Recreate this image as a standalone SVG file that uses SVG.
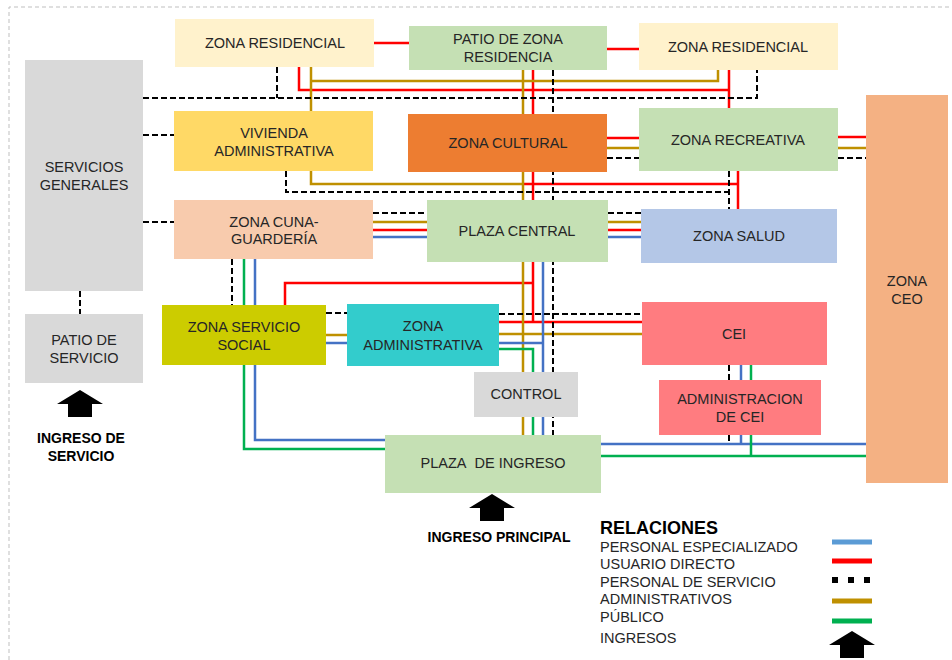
<svg xmlns="http://www.w3.org/2000/svg" width="952" height="660" viewBox="0 0 952 660">
<style>
.lbl{font-family:"Liberation Sans",Arial,sans-serif;font-size:14.5px;fill:#262626;text-anchor:middle;dominant-baseline:central}
.bold{font-family:"Liberation Sans",Arial,sans-serif;font-size:14px;font-weight:bold;fill:#000;text-anchor:middle}
.leg{font-family:"Liberation Sans",Arial,sans-serif;font-size:14.5px;fill:#262626}
.r{stroke:#FF0000;stroke-width:2.5;fill:none}
.g{stroke:#BF9000;stroke-width:2.5;fill:none}
.b{stroke:#4472C4;stroke-width:2.5;fill:none}
.gr{stroke:#00B050;stroke-width:2.5;fill:none}
.d{stroke:#000;stroke-width:2;stroke-dasharray:6 3;fill:none}
</style>
<defs>
<path id="arr" d="M0,0 L23,14 L12,14 L12,27 L-12,27 L-12,14 L-23,14 Z" fill="#000"/>
</defs>
<rect width="952" height="660" fill="#fff"/>
<path d="M9,660 V7 H952" stroke="#BFBFBF" stroke-width="1" stroke-dasharray="4 3" fill="none"/>
<g id="connectors">
<path class="r" d="M374,43 H409"/>
<path class="r" d="M607,49 H639"/>
<path class="r" d="M299,67 V90 H729"/>
<path class="r" d="M729,70 V108"/>
<path class="r" d="M533,70 V322"/>
<path class="r" d="M523,184 H738"/>
<path class="r" d="M738,171 V209"/>
<path class="r" d="M607,138 H639"/>
<path class="r" d="M838,137 H866"/>
<path class="r" d="M373,230 H427"/>
<path class="r" d="M608,230 H641"/>
<path class="r" d="M285,305 V283 H533"/>
<path class="r" d="M499,322 H642"/>
<path class="g" d="M311,67 V111"/>
<path class="g" d="M311,81 H718 V70"/>
<path class="g" d="M523,70 V435"/>
<path class="g" d="M311,171 V184 H523"/>
<path class="g" d="M607,148 H639"/>
<path class="g" d="M838,148 H866"/>
<path class="g" d="M373,222 H427"/>
<path class="g" d="M608,222 H641"/>
<path class="g" d="M326,335 H347"/>
<path class="g" d="M499,334 H642"/>
<path class="b" d="M373,237 H427"/>
<path class="b" d="M608,237 H641"/>
<path class="b" d="M255,259 V440 H385"/>
<path class="b" d="M326,343 H347"/>
<path class="b" d="M499,343 H543"/>
<path class="b" d="M543,262 V435"/>
<path class="b" d="M741,365 V380"/>
<path class="b" d="M741,435 V444"/>
<path class="b" d="M601,444 H866"/>
<path class="gr" d="M244,259 V449 H385"/>
<path class="gr" d="M499,349 H533 V435"/>
<path class="gr" d="M751,365 V380"/>
<path class="gr" d="M751,435 V456"/>
<path class="gr" d="M601,456 H866"/>
<path class="d" d="M143,98 H757 V70"/>
<path class="d" d="M277,67 V98"/>
<path class="d" d="M553,70 V435"/>
<path class="d" d="M143,135 H174"/>
<path class="d" d="M143,222 H174"/>
<path class="d" d="M80,291 V314"/>
<path class="d" d="M286,171 V192 H729"/>
<path class="d" d="M729,171 V209"/>
<path class="d" d="M607,158 H639"/>
<path class="d" d="M838,158 H866"/>
<path class="d" d="M373,213 H427"/>
<path class="d" d="M608,213 H641"/>
<path class="d" d="M232,259 V305"/>
<path class="d" d="M326,313 H347"/>
<path class="d" d="M499,314 H642"/>
<path class="d" d="M729,365 V380"/>
<path class="d" d="M729,435 V444"/>
</g>
<g id="zona-residencial-1"><rect x="175" y="19" width="199" height="48" fill="#FFF2CC"/><text class="lbl" x="275" y="43">ZONA RESIDENCIAL</text></g>
<g id="patio-zona-residencia"><rect x="409" y="26" width="198" height="44" fill="#C5E0B4"/><text class="lbl" x="508" y="39">PATIO DE ZONA</text><text class="lbl" x="508" y="57">RESIDENCIA</text></g>
<g id="zona-residencial-2"><rect x="639" y="23" width="199" height="47" fill="#FFF2CC"/><text class="lbl" x="738" y="47">ZONA RESIDENCIAL</text></g>
<g id="servicios-generales"><rect x="25" y="60" width="118" height="231" fill="#D9D9D9"/><text class="lbl" x="84" y="167">SERVICIOS</text><text class="lbl" x="84" y="185">GENERALES</text></g>
<g id="vivienda-administrativa"><rect x="174" y="111" width="199" height="60" fill="#FFD966"/><text class="lbl" x="274" y="133">VIVIENDA</text><text class="lbl" x="274" y="151">ADMINISTRATIVA</text></g>
<g id="zona-cultural"><rect x="408" y="114" width="199" height="58" fill="#ED7D31"/><text class="lbl" x="508" y="143">ZONA CULTURAL</text></g>
<g id="zona-recreativa"><rect x="639" y="108" width="199" height="63" fill="#C5E0B4"/><text class="lbl" x="738" y="140">ZONA RECREATIVA</text></g>
<g id="zona-ceo"><rect x="866" y="95" width="82" height="388" fill="#F4B183"/><text class="lbl" x="907" y="281">ZONA</text><text class="lbl" x="907" y="299">CEO</text></g>
<g id="zona-cuna"><rect x="174" y="200" width="199" height="59" fill="#F8CBAD"/><text class="lbl" x="274" y="222">ZONA CUNA-</text><text class="lbl" x="274" y="239">GUARDERÍA</text></g>
<g id="plaza-central"><rect x="427" y="200" width="181" height="62" fill="#C5E0B4"/><text class="lbl" x="517" y="231">PLAZA CENTRAL</text></g>
<g id="zona-salud"><rect x="641" y="209" width="196" height="54" fill="#B4C7E7"/><text class="lbl" x="739" y="236">ZONA SALUD</text></g>
<g id="patio-servicio"><rect x="25" y="314" width="118" height="69" fill="#D9D9D9"/><text class="lbl" x="84" y="340">PATIO DE</text><text class="lbl" x="84" y="358">SERVICIO</text></g>
<g id="zona-servicio-social"><rect x="162" y="305" width="164" height="60" fill="#CCCC00"/><text class="lbl" x="244" y="327">ZONA SERVICIO</text><text class="lbl" x="244" y="345">SOCIAL</text></g>
<g id="zona-administrativa"><rect x="347" y="304" width="152" height="62" fill="#33CCCC"/><text class="lbl" x="423" y="326">ZONA</text><text class="lbl" x="423" y="345">ADMINISTRATIVA</text></g>
<g id="cei"><rect x="642" y="302" width="185" height="63" fill="#FF7C80"/><text class="lbl" x="734" y="334">CEI</text></g>
<g id="control"><rect x="474" y="372" width="104" height="45" fill="#D9D9D9"/><text class="lbl" x="526" y="394">CONTROL</text></g>
<g id="administracion-cei"><rect x="659" y="380" width="162" height="55" fill="#FF7C80"/><text class="lbl" x="740" y="399">ADMINISTRACION</text><text class="lbl" x="740" y="417">DE CEI</text></g>
<g id="plaza-ingreso"><rect x="385" y="435" width="216" height="58" fill="#C5E0B4"/><text class="lbl" x="493" y="463">PLAZA&#160; DE INGRESO</text></g>
<g id="ingreso-servicio"><use href="#arr" x="80" y="390"/><text class="bold" x="81" y="443">INGRESO DE</text><text class="bold" x="81" y="461">SERVICIO</text></g>
<g id="ingreso-principal"><use href="#arr" x="492" y="494"/><text class="bold" x="499" y="542">INGRESO PRINCIPAL</text></g>
<g id="legend">
<text x="600" y="534" font-family="'Liberation Sans',Arial,sans-serif" font-size="18" font-weight="bold" fill="#000">RELACIONES</text>
<text class="leg" x="600" y="552">PERSONAL ESPECIALIZADO</text>
<text class="leg" x="600" y="569">USUARIO DIRECTO</text>
<text class="leg" x="600" y="587">PERSONAL DE SERVICIO</text>
<text class="leg" x="600" y="604">ADMINISTRATIVOS</text>
<text class="leg" x="600" y="622">PÚBLICO</text>
<text class="leg" x="600" y="643">INGRESOS</text>
<line x1="832" y1="542" x2="872" y2="542" stroke="#5B9BD5" stroke-width="5"/>
<line x1="832" y1="561" x2="872" y2="561" stroke="#FF0000" stroke-width="5"/>
<rect x="832" y="577" width="6" height="6" fill="#000"/><rect x="848" y="577" width="6" height="6" fill="#000"/><rect x="864" y="577" width="6" height="6" fill="#000"/>
<line x1="832" y1="601" x2="872" y2="601" stroke="#BF9000" stroke-width="5"/>
<line x1="832" y1="621" x2="872" y2="621" stroke="#00B050" stroke-width="5"/>
<use href="#arr" x="852" y="631"/>
</g>
</svg>
